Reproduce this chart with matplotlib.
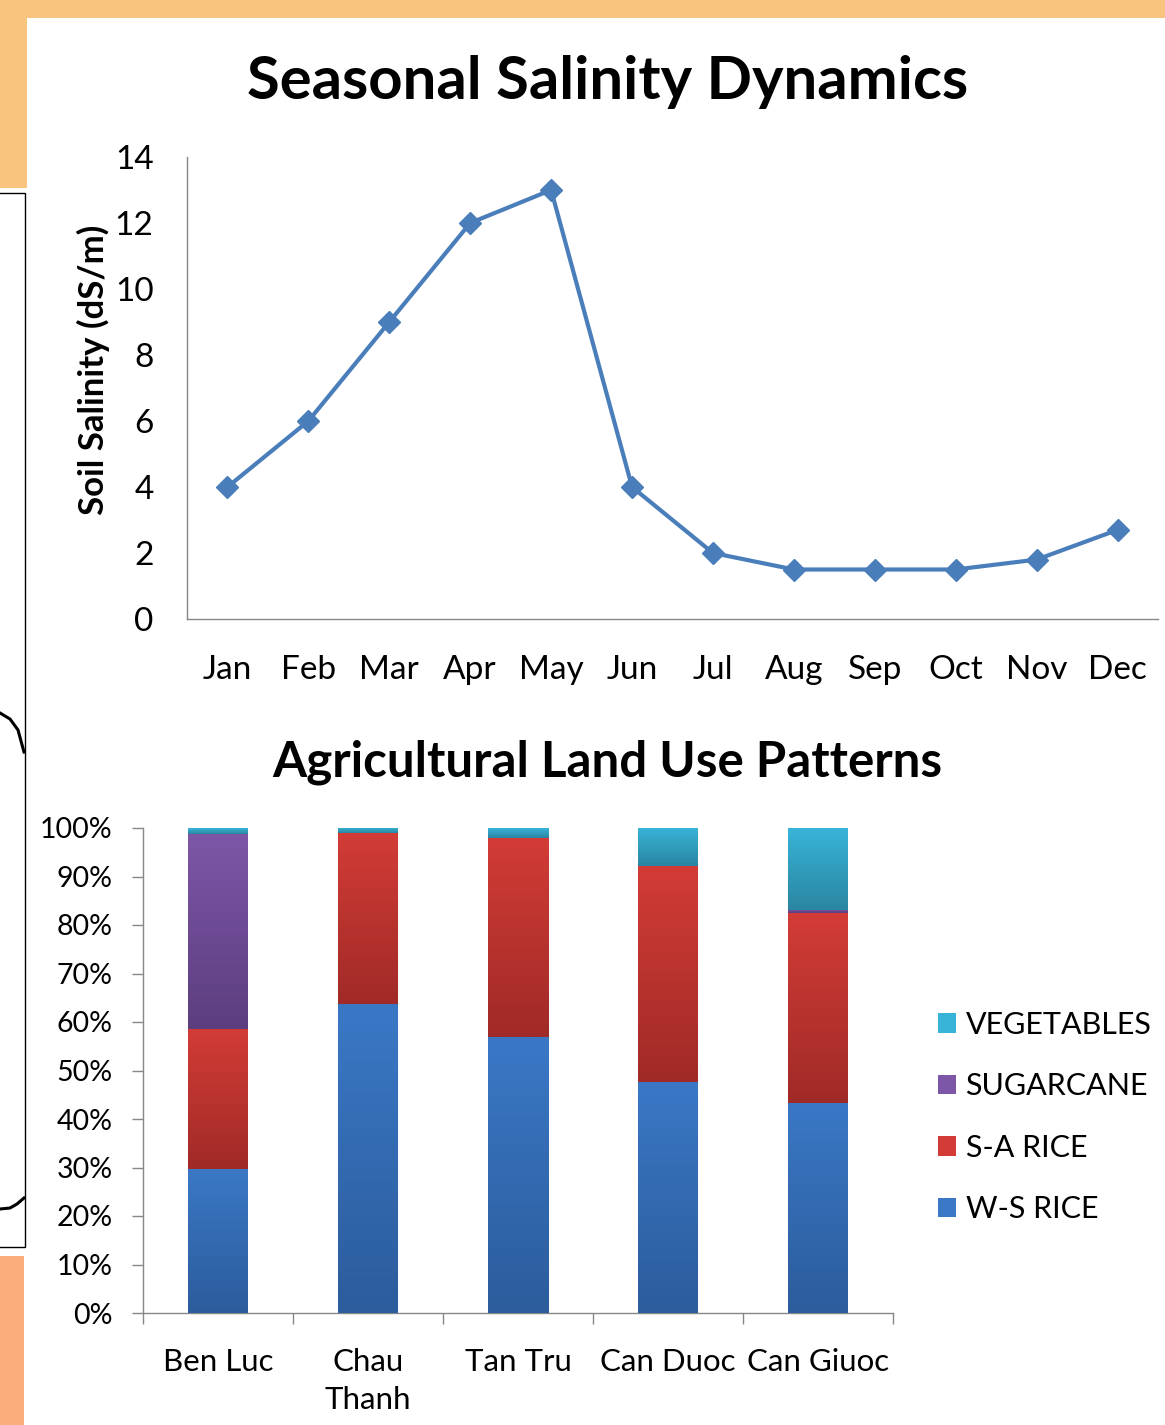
"""Slide panel: seasonal salinity line chart above stacked land-use bars."""

import matplotlib

matplotlib.use("Agg")

import matplotlib.pyplot as plt
import numpy as np
from matplotlib.lines import Line2D
from matplotlib.patches import Patch, Rectangle

W_PX, H_PX = 1165, 1425

months = ["Jan", "Feb", "Mar", "Apr", "May", "Jun", "Jul", "Aug", "Sep", "Oct", "Nov", "Dec"]
salinity = [4, 6, 9, 12, 13, 4, 2, 1.5, 1.5, 1.5, 1.8, 2.7]

districts = ["Ben Luc", "Chau\nThanh", "Tan Tru", "Can Duoc", "Can Giuoc"]
ws_rice = [29.7, 63.7, 56.9, 47.7, 43.4]
sa_rice = [28.9, 35.2, 41.1, 44.4, 39.0]
sugarcane = [40.2, 0.0, 0.0, 0.0, 0.7]
vegetables = [1.2, 1.1, 2.0, 7.9, 16.9]

series = [
    ("W-S RICE", ws_rice, "#3A78C6", "#2C5C9C"),
    ("S-A RICE", sa_rice, "#D33C36", "#A02A27"),
    ("SUGARCANE", sugarcane, "#7E56A8", "#5C3E7E"),
    ("VEGETABLES", vegetables, "#38B4D8", "#2A86A2"),
]

plt.rcParams["font.family"] = ["Lato", "DejaVu Sans"]
AXIS_GREY = "#878787"


def px_rect(x0, y0, x1, y1):
    """Pixel box (top-left origin) -> figure fraction rect."""
    return [x0 / W_PX, 1 - y1 / H_PX, (x1 - x0) / W_PX, (y1 - y0) / H_PX]


def px_pt(x, y):
    return x / W_PX, 1 - y / H_PX


fig = plt.figure(figsize=(W_PX / 100, H_PX / 100), dpi=100, facecolor="white")

# slide background bits around the charts
for (x0, y0, x1, y1), col in [
    ((0, 0, W_PX, 18), "#F9C47E"),
    ((0, 0, 27, 188), "#F9C47E"),
    ((0, 1256, 24, H_PX), "#FBAE7C"),
]:
    r = px_rect(x0, y0, x1, y1)
    fig.add_artist(Rectangle((r[0], r[1]), r[2], r[3], transform=fig.transFigure,
                             facecolor=col, edgecolor="none", zorder=0))
r = px_rect(-5, 193, 25, 1247)
fig.add_artist(Rectangle((r[0], r[1]), r[2], r[3], transform=fig.transFigure,
                         facecolor="white", edgecolor="black", linewidth=1.0, zorder=0))
for pts in ([(0, 713), (10, 719), (18, 730), (24, 752)],
            [(0, 1209), (10, 1208), (17, 1204), (24, 1198)]):
    xs, ys = zip(*[px_pt(x, y) for x, y in pts])
    fig.add_artist(Line2D(xs, ys, transform=fig.transFigure, color="black", linewidth=2.2, zorder=1))

# ---- top: seasonal salinity ----
ax1 = fig.add_axes(px_rect(187, 157, 1158, 619))
x = np.arange(len(months))
ax1.plot(x, salinity, color="#4A7EBB", linewidth=3.0, marker="D", markersize=11.5,
         markerfacecolor="#4A7EBB", markeredgecolor="#4A7EBB", clip_on=False)
ax1.set_xlim(-0.5, len(months) - 0.5)
ax1.set_ylim(0, 14)
ax1.set_yticks(range(0, 15, 2))
ax1.set_xticks(x, months)
ax1.tick_params(axis="y", length=0, pad=24, labelsize=24, colors="black")
ax1.tick_params(axis="x", length=0, pad=26, labelsize=24, colors="black")
for side in ("top", "right"):
    ax1.spines[side].set_visible(False)
for side in ("left", "bottom"):
    ax1.spines[side].set_color(AXIS_GREY)
    ax1.spines[side].set_linewidth(1.0)
ax1.set_ylabel("Soil Salinity (dS/m)", fontsize=25, fontweight="bold")
ax1.yaxis.set_label_coords(-0.079, 0.539)
fig.text(608 / W_PX, 1 - 82 / H_PX, "Seasonal Salinity Dynamics", fontsize=43,
         fontweight="bold", ha="center", va="center")

# ---- bottom: land use stacked bars ----
ax2 = fig.add_axes(px_rect(143, 828, 893, 1313))
xb = np.arange(len(districts))
bar_w = 0.4
bottom = np.zeros(len(districts))
handles = []
for label, vals, top_col, bot_col in series:
    vals = np.asarray(vals, dtype=float)
    bars = ax2.bar(xb, vals, bar_w, bottom=bottom, color=top_col, edgecolor="none", zorder=2)
    cmap = matplotlib.colors.LinearSegmentedColormap.from_list(label, [bot_col, top_col])
    grad = np.linspace(0, 1, 256).reshape(-1, 1)
    for patch in bars:
        h = patch.get_height()
        if h <= 0:
            continue
        x0, y0 = patch.get_x(), patch.get_y()
        im = ax2.imshow(grad, cmap=cmap, aspect="auto", origin="lower",
                        extent=(x0, x0 + patch.get_width(), y0, y0 + h), zorder=3)
        im.set_clip_path(patch)
    bottom += vals
    handles.append(Patch(facecolor=top_col, edgecolor="none", label=label))

ax2.set_xlim(-0.5, len(districts) - 0.5)
ax2.set_ylim(0, 100)
ax2.set_yticks(range(0, 101, 10), [f"{v}%" for v in range(0, 101, 10)])
ax2.set_xticks(xb, districts)
ax2.set_xticks(np.arange(-0.5, len(districts)), minor=True)
ax2.tick_params(axis="y", length=8, width=1, color=AXIS_GREY, pad=14, labelsize=20.5)
ax2.tick_params(axis="x", which="major", length=0, pad=25, labelsize=22.5)
ax2.tick_params(axis="x", which="minor", length=8, width=1, color=AXIS_GREY)
for side in ("top", "right"):
    ax2.spines[side].set_visible(False)
for side in ("left", "bottom"):
    ax2.spines[side].set_color(AXIS_GREY)
    ax2.spines[side].set_linewidth(1.0)
for lbl in ax2.get_xticklabels():
    lbl.set_linespacing(1.45)
fig.text(607 / W_PX, 1 - 762 / H_PX, "Agricultural Land Use Patterns", fontsize=35.5,
         fontweight="bold", ha="center", va="center")

fig.legend(handles=handles[::-1], loc="center left",
           bbox_to_anchor=(938 / W_PX, 1 - 1117 / H_PX), frameon=False,
           fontsize=22, handlelength=0.6, handleheight=0.6, handletextpad=0.3,
           labelspacing=1.1, borderaxespad=0, borderpad=0)

fig.savefig("out.png", dpi=100, facecolor=fig.get_facecolor())
